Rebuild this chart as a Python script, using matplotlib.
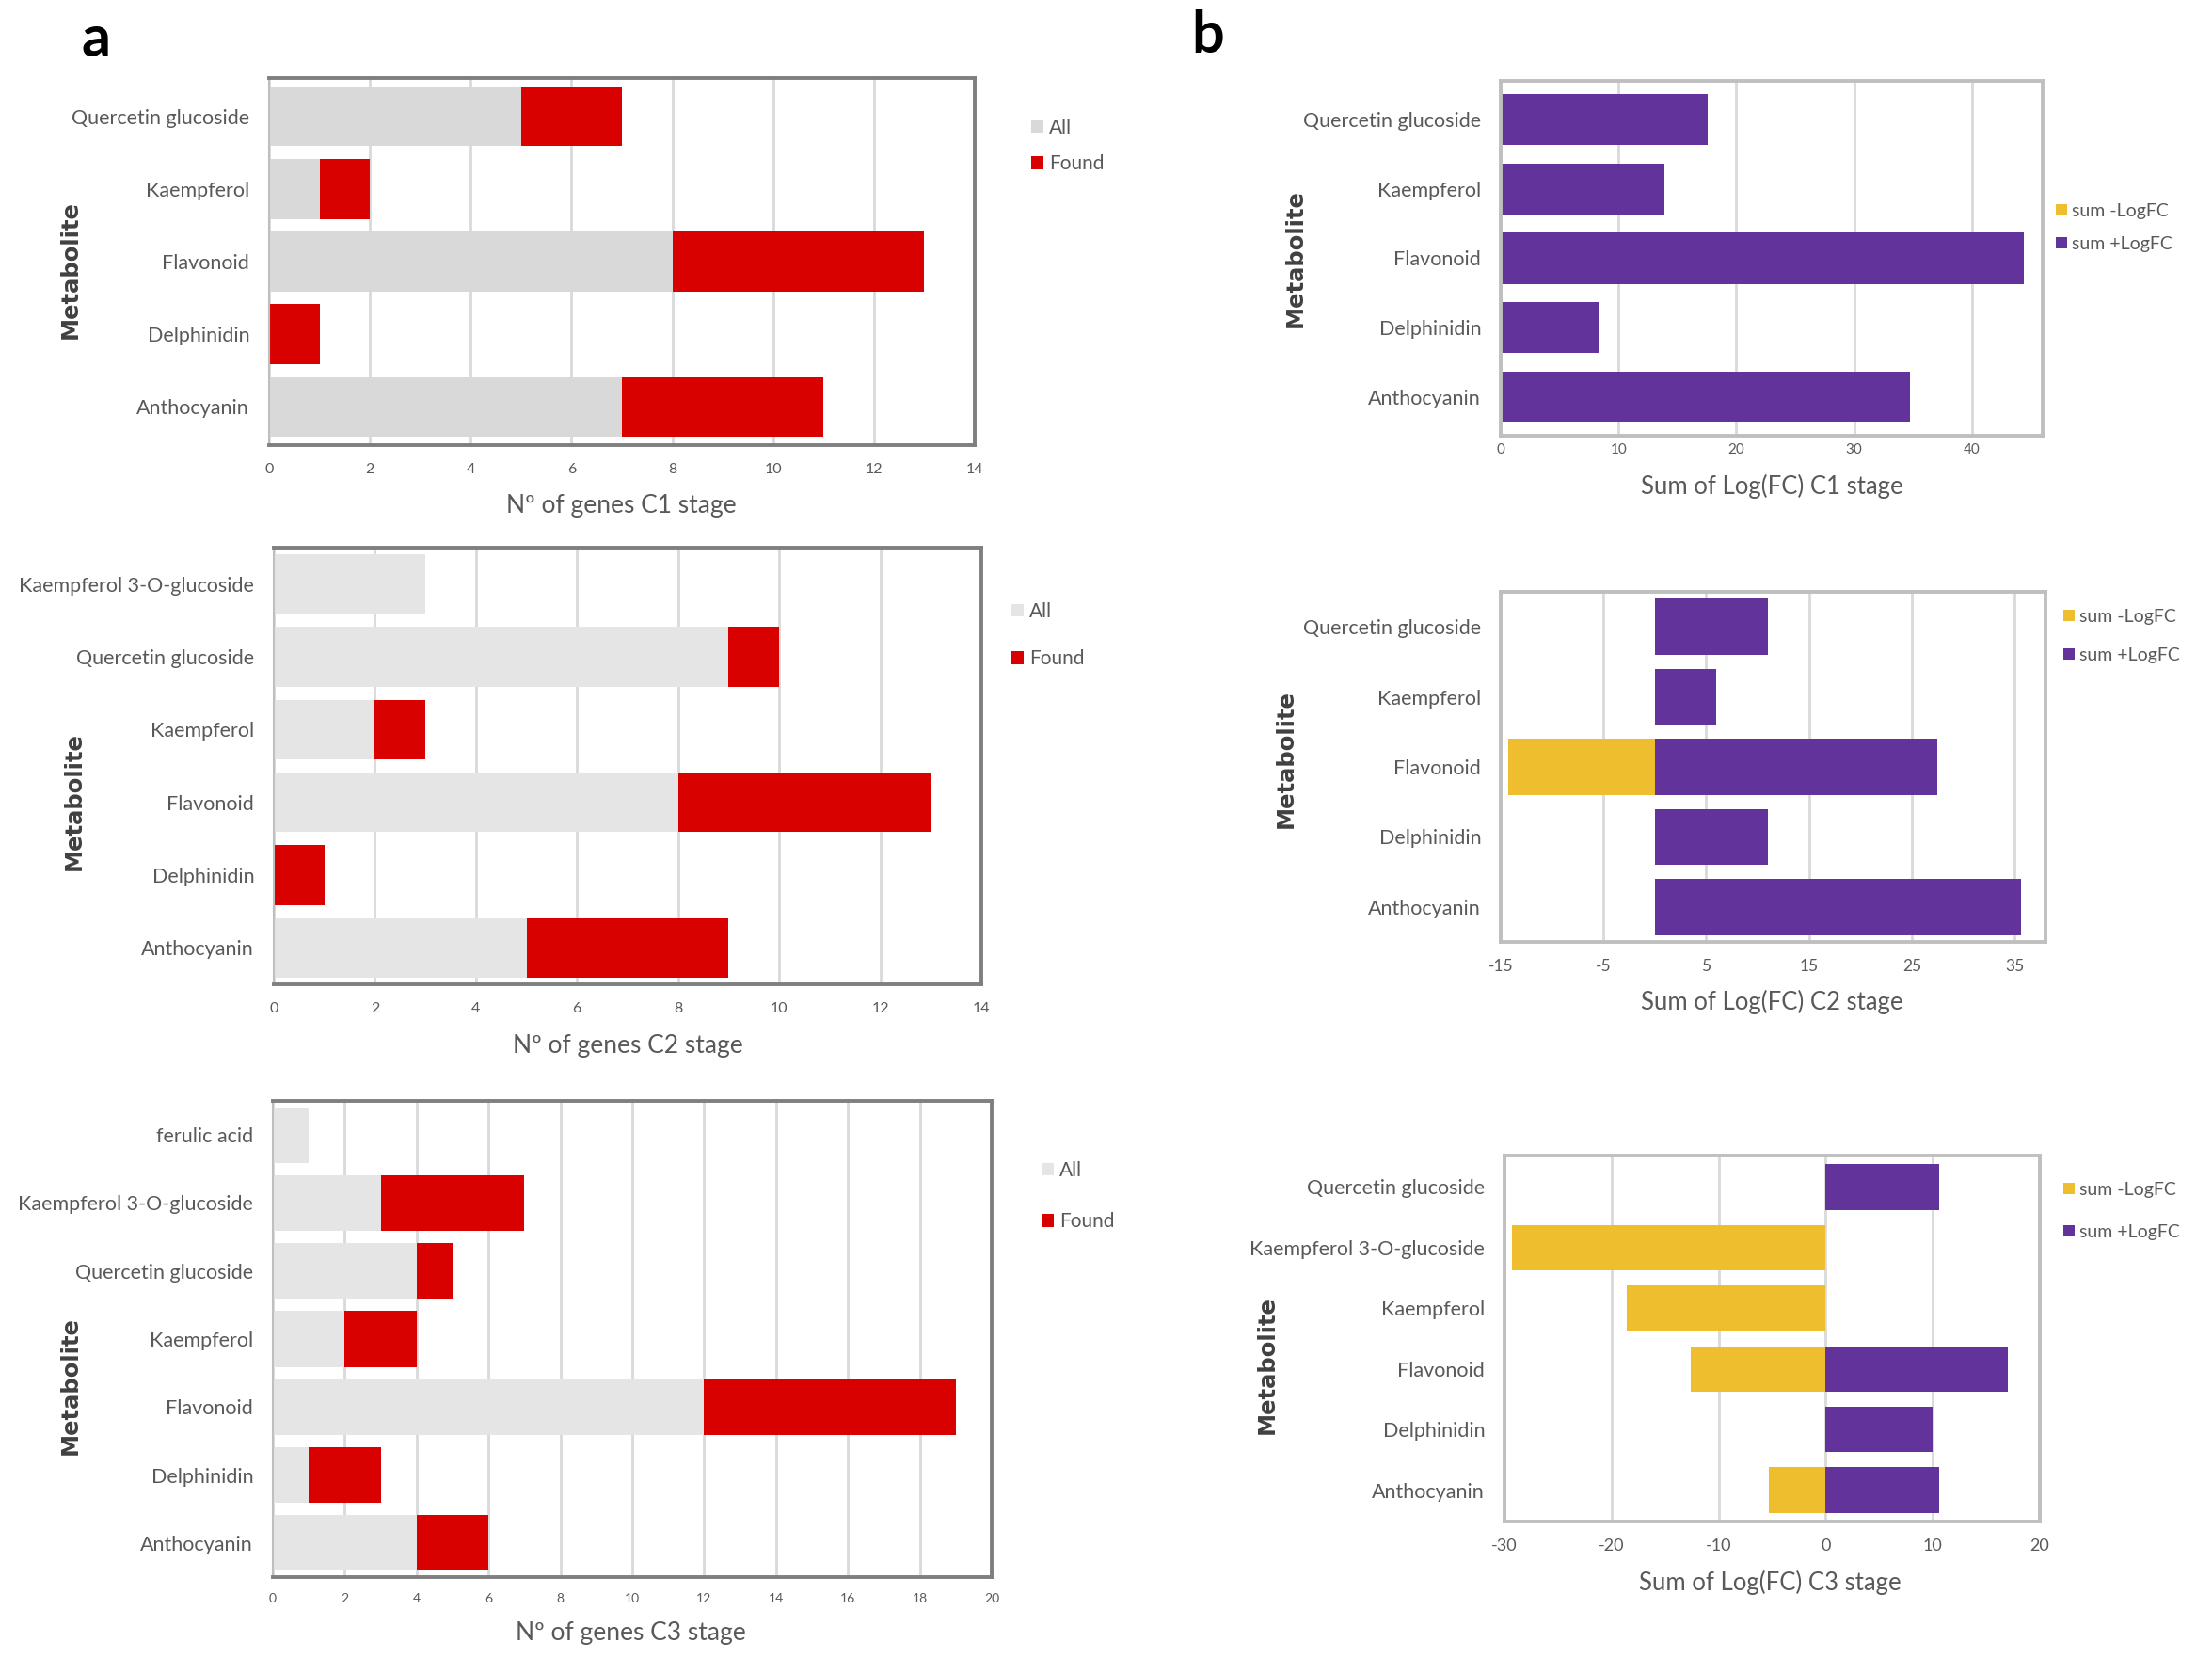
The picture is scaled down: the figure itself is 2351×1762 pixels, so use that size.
import matplotlib
matplotlib.use("Agg")
import matplotlib.pyplot as plt
import numpy as np

plt.rcParams['font.family'] = ['Lato', 'DejaVu Sans']

# ---------------- data ----------------
# Panel a: number of genes (All / Found), categories listed top -> bottom
a1_cats = ["Quercetin glucoside", "Kaempferol", "Flavonoid", "Delphinidin", "Anthocyanin"]
a1_all = [5, 1, 8, 0, 7]
a1_found = [2, 1, 5, 1, 4]

a2_cats = ["Kaempferol 3-O-glucoside", "Quercetin glucoside", "Kaempferol", "Flavonoid",
           "Delphinidin", "Anthocyanin"]
a2_all = [3, 9, 2, 8, 0, 5]
a2_found = [0, 1, 1, 5, 1, 4]

a3_cats = ["ferulic acid", "Kaempferol 3-O-glucoside", "Quercetin glucoside", "Kaempferol",
           "Flavonoid", "Delphinidin", "Anthocyanin"]
a3_all = [1, 3, 4, 2, 12, 1, 4]
a3_found = [0, 4, 1, 2, 7, 2, 2]

# Panel b: sum of Log(FC)
b1_cats = ["Quercetin glucoside", "Kaempferol", "Flavonoid", "Delphinidin", "Anthocyanin"]
b1_neg = [0, 0, 0, 0, 0]
b1_pos = [17.6, 13.9, 44.4, 8.3, 34.7]

b2_cats = ["Quercetin glucoside", "Kaempferol", "Flavonoid", "Delphinidin", "Anthocyanin"]
b2_neg = [0, 0, -14.3, 0, 0]
b2_pos = [11.0, 6.0, 27.5, 11.0, 35.6]

b3_cats = ["Quercetin glucoside", "Kaempferol 3-O-glucoside", "Kaempferol", "Flavonoid",
           "Delphinidin", "Anthocyanin"]
b3_neg = [0, -29.3, -18.6, -12.6, 0, -5.3]
b3_pos = [10.6, 0, 0, 17.0, 10.0, 10.6]

# ---------------- style ----------------
RED = '#D90000'
PURPLE = '#62339A'
YELLOW = '#EEBE2E'
GRAY1 = '#D9D9D9'
GRAY2 = '#E6E5E5'
TXT = '#595959'
GRID = '#D9D9D9'

W, H = 2351.0, 1762.0
fig = plt.figure(figsize=(W / 100, H / 100), dpi=100)


def rect(x0, x1, ytop, ybot):
    return [x0 / W, 1 - ybot / H, (x1 - x0) / W, (ybot - ytop) / H]


def fx(x):
    return x / W


def fy(y):
    return 1 - y / H


def style_axes(ax, frame_dark, xticks, xlim, n, tick_fs, tick_pad, bar_pad):
    ax.set_xlim(*xlim)
    ax.set_ylim(-bar_pad, n - 1 + bar_pad)
    ax.set_xticks(xticks)
    ax.set_xticklabels([str(t) for t in xticks])
    ax.grid(axis='x', color=GRID, lw=2.0, zorder=0)
    ax.set_axisbelow(True)
    ax.tick_params(axis='both', length=0, colors=TXT)
    ax.tick_params(axis='x', labelsize=tick_fs, pad=tick_pad)
    ax.tick_params(axis='y', labelsize=15.5, pad=15)
    for s in ['top', 'right', 'bottom']:
        ax.spines[s].set_color('#7F7F7F' if frame_dark else '#BFBFBF')
        ax.spines[s].set_linewidth(2.8)
    ax.spines['left'].set_color('#BFBFBF')
    ax.spines['left'].set_linewidth(1.5 if frame_dark else 2.8)


def add_common(ax, handles, labels, xlabel, xl_pos, leg, ml_pos, leg_fs, xl_fs):
    fig.text(fx(xl_pos[0]), fy(xl_pos[1]), xlabel, ha='center', va='center',
             fontsize=xl_fs, color=TXT)
    fig.legend(handles=handles, labels=labels, loc='center left',
               bbox_to_anchor=(fx(leg[0]), fy(leg[1])), frameon=False,
               fontsize=leg_fs, handlelength=0.6, handleheight=0.6, handletextpad=0.3,
               labelspacing=leg[2], labelcolor=TXT, borderaxespad=0, borderpad=0)
    fig.text(fx(ml_pos[0]), fy(ml_pos[1]), 'Metabolite', rotation=90, ha='center',
             va='center', fontsize=17.5, fontweight='bold', color='#404040',
             family='DejaVu Sans')


def panel_a(r, cats, all_v, found_v, gray, xticks, xlim, tick_fs, tick_pad, pad,
            xlabel, xl_pos, leg, ml_pos):
    ax = fig.add_axes(rect(*r))
    n = len(cats)
    y = np.arange(n)[::-1]
    b1 = ax.barh(y, all_v, height=0.82, color=gray, label='All', zorder=2)
    b2 = ax.barh(y, found_v, left=all_v, height=0.82, color=RED, label='Found', zorder=2)
    ax.set_yticks(y)
    ax.set_yticklabels(cats)
    style_axes(ax, True, xticks, xlim, n, tick_fs, tick_pad, pad)
    add_common(ax, [b1, b2], ['All', 'Found'], xlabel, xl_pos, leg, ml_pos, 15, 19)
    return ax


def panel_b(r, cats, neg, pos, xticks, xlim, tick_fs, tick_pad, pad, height,
            xlabel, xl_pos, leg, ml_pos):
    ax = fig.add_axes(rect(*r))
    n = len(cats)
    y = np.arange(n)[::-1]
    h1 = ax.barh(y, neg, height=height, color=YELLOW, label='sum -LogFC', zorder=2)
    h2 = ax.barh(y, pos, height=height, color=PURPLE, label='sum +LogFC', zorder=2)
    ax.set_yticks(y)
    ax.set_yticklabels(cats)
    style_axes(ax, False, xticks, xlim, n, tick_fs, tick_pad, pad)
    add_common(ax, [h1, h2], ['sum -LogFC', 'sum +LogFC'], xlabel, xl_pos, leg, ml_pos, 14, 18.5)
    return ax


panel_a((286, 1036, 83, 473), a1_cats, a1_all, a1_found, GRAY1, list(range(0, 15, 2)), (0, 14),
        11.5, 14, 0.53, 'Nº of genes C1 stage', (660, 537), (1096, 155, 0.9), (75, 287))
panel_a((291, 1043, 582, 1046), a2_cats, a2_all, a2_found, GRAY2, list(range(0, 15, 2)), (0, 14),
        11.5, 14, 0.5, 'Nº of genes C2 stage', (667, 1111), (1075, 675, 1.47), (79, 852))
panel_a((290, 1054, 1170, 1676), a3_cats, a3_all, a3_found, GRAY2, list(range(0, 21, 2)), (0, 20),
        10, 12, 0.5, 'Nº of genes C3 stage', (670, 1736), (1107, 1271, 1.66), (75, 1473))

panel_b((1595, 2171, 86, 463), b1_cats, b1_neg, b1_pos, [0, 10, 20, 30, 40], (0, 46),
        11, 6, 0.56, 0.74, 'Sum of Log(FC) C1 stage', (1883, 517), (2185, 242, 0.93), (1377, 275))
panel_b((1595, 2174, 629, 1001), b2_cats, b2_neg, b2_pos, [-15, -5, 5, 15, 25, 35], (-15, 38),
        12.5, 13, 0.5, 0.8, 'Sum of Log(FC) C2 stage', (1883, 1065), (2193, 676, 1.24), (1367, 807))
panel_b((1599, 2168, 1228, 1617), b3_cats, b3_neg, b3_pos, [-30, -20, -10, 0, 10, 20], (-30, 20),
        13, 13, 0.52, 0.75, 'Sum of Log(FC) C3 stage', (1881, 1682), (2193, 1287, 1.44), (1347, 1451))

fig.text(fx(102), fy(42), 'a', fontsize=44, fontweight='bold', ha='center', va='center',
         color='black')
fig.text(fx(1284), fy(38), 'b', fontsize=44, fontweight='bold', ha='center', va='center',
         color='black')

fig.savefig('out.png', dpi=100, facecolor='white')
